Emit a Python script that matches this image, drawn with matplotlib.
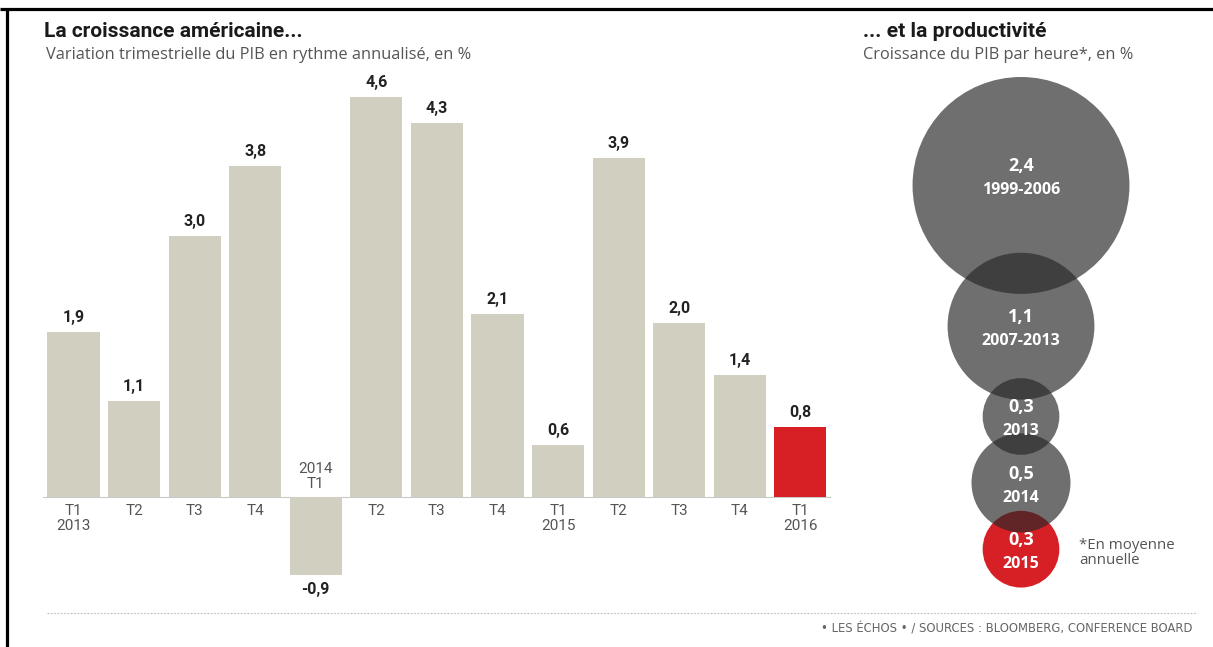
import numpy as np
import matplotlib.pyplot as plt
from matplotlib.patches import Circle

plt.rcParams['font.family'] = ['Roboto', 'DejaVu Sans']

W, H = 1213, 647

# donnees : croissance trimestrielle du PIB US
trimestres = ['T1\n2013', 'T2', 'T3', 'T4', '2014\nT1', 'T2', 'T3', 'T4',
              'T1\n2015', 'T2', 'T3', 'T4', 'T1\n2016']
pib = [1.9, 1.1, 3.0, 3.8, -0.9, 4.6, 4.3, 2.1, 0.6, 3.9, 2.0, 1.4, 0.8]

# productivite (PIB par heure)
periodes = ['1999-2006', '2007-2013', '2013', '2014', '2015']
productivite = [2.4, 1.1, 0.3, 0.5, 0.3]

beige = '#d1cfbf'
rouge = '#d71f26'
OS = ['Open Sans', 'DejaVu Sans']

fig = plt.figure(figsize=(W / 100, H / 100), dpi=100)

# --- barres ---
left, right, top, bottom = 43.2, 830.6, 80, 600
zero_px, ppu = 497, 87.0
ax = fig.add_axes([left / W, (H - bottom) / H, (right - left) / W, (bottom - top) / H])
ax.set_xlim(-0.5, len(pib) - 0.5)
ax.set_ylim(-(bottom - zero_px) / ppu, (zero_px - top) / ppu)
ax.axis('off')

x = np.arange(len(pib))
couleurs = [beige] * (len(pib) - 1) + [rouge]
ax.bar(x, pib, width=0.86, color=couleurs, zorder=2)
ax.axhline(0, color='#c9c9c9', lw=0.8, zorder=1)

for i, v in enumerate(pib):
    lab = f'{v:.1f}'.replace('.', ',')
    if v >= 0:
        ax.annotate(lab, (i, v), xytext=(0, 5), textcoords='offset points',
                    ha='center', va='bottom', fontsize=11.5, fontweight='bold', color='#222222')
        ax.annotate(trimestres[i], (i, 0), xytext=(0, -5), textcoords='offset points',
                    ha='center', va='top', fontsize=11, color='#555555', linespacing=1.1)
    else:
        ax.annotate(lab, (i, v), xytext=(0, -5), textcoords='offset points',
                    ha='center', va='top', fontsize=11.5, fontweight='bold', color='#222222')
        ax.annotate(trimestres[i], (i, 0), xytext=(0, 4), textcoords='offset points',
                    ha='center', va='bottom', fontsize=11, color='#555555', linespacing=1.1)

# --- calque en pixels pour bulles et textes ---
ov = fig.add_axes([0, 0, 1, 1])
ov.set_xlim(0, W)
ov.set_ylim(H, 0)
ov.axis('off')

# cadre
ov.plot([0, W], [8.5, 8.5], color='black', lw=2.3, solid_capstyle='butt')
ov.plot([7.3, 7.3], [8.5, H], color='black', lw=2.3, solid_capstyle='butt')

ov.text(44, 37, 'La croissance américaine...', fontsize=15, fontweight='bold',
        color='#1a1a1a', ha='left', va='baseline')
ov.text(46, 59, 'Variation trimestrielle du PIB en rythme annualisé, en %', fontsize=11.8,
        color='#555555', ha='left', va='baseline', family=OS)
ov.text(863, 37, '... et la productivité', fontsize=15.2, fontweight='bold',
        color='#1a1a1a', ha='left', va='baseline')
ov.text(863, 59, 'Croissance du PIB par heure*, en %', fontsize=11.8,
        color='#555555', ha='left', va='baseline', family=OS)

# bulles : surface proportionnelle a la valeur
k = 70.0
rayons = [k * np.sqrt(v) for v in productivite]
cx = 1021
cy = 77 + rayons[0]
centres = [cy]
for j in range(1, len(rayons)):
    cy = cy + rayons[j - 1] + rayons[j] - 0.56 * min(rayons[j - 1], rayons[j])
    centres.append(cy)

for j, (r, c) in enumerate(zip(rayons, centres)):
    if j == len(rayons) - 1:
        ov.add_patch(Circle((cx, c), r, facecolor=rouge, edgecolor='none', zorder=1))
    else:
        ov.add_patch(Circle((cx, c), r, facecolor='#282828', alpha=0.67,
                            edgecolor='none', zorder=2))
    dy = -10 if j == 0 else 0
    ov.text(cx, c - 9 + dy, f'{productivite[j]:.1f}'.replace('.', ','), ha='center',
            va='center', fontsize=13, fontweight='bold', color='white', zorder=5, family=OS)
    ov.text(cx, c + 15 + dy, periodes[j], ha='center', va='center', fontsize=11.5,
            fontweight='bold', color='white', zorder=5, family=OS)

ov.text(1079, 553, '*En moyenne\nannuelle', ha='left', va='center', fontsize=10.8,
        color='#555555', linespacing=1.0, family=OS)

# pied
ov.plot([47, 1196], [613, 613], color='#bdbdbd', lw=0.8, ls=(0, (1.5, 1.5)))
ov.text(1192, 629, '• LES ÉCHOS • / SOURCES : BLOOMBERG, CONFERENCE BOARD', ha='right',
        va='center', fontsize=8.4, color='#666666', family=['DejaVu Sans'])

fig.savefig('out.png', dpi=100)
